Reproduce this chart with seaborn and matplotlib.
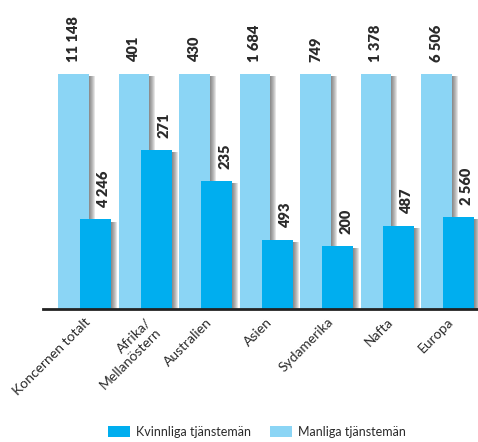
import matplotlib
matplotlib.use("Agg")
import numpy as np
import pandas as pd
import seaborn as sns
import matplotlib.pyplot as plt
from matplotlib import patheffects as pe
from matplotlib.patches import Patch

categories = ["Koncernen totalt", "Afrika/\nMellanöstern", "Australien", "Asien",
              "Sydamerika", "Nafta", "Europa"]
men = [11148, 401, 430, 1684, 749, 1378, 6506]
women = [4246, 271, 235, 493, 200, 487, 2560]
series_names = ["Kvinnliga tjänstemän", "Manliga tjänstemän"]

LIGHT = "#8BD5F5"
DARK = "#00AEEF"
TXT = "#2a2a2a"

sns.set_theme(style="white")
plt.rcParams["font.family"] = ["Lato", "DejaVu Sans"]

fig = plt.figure(figsize=(4.78, 4.42), dpi=100)
ax = fig.add_axes([43 / 478, 133 / 442, 435 / 478, 235 / 442])

pos = np.arange(len(categories))
off = 0.182
df = pd.DataFrame({
    "pos_m": pos - off,
    "pos_w": pos + off,
    "men_share": np.array(men) / np.array(men),
    "women_share": np.array(women) / np.array(men),
})

sns.barplot(data=df, x="pos_m", y="men_share", native_scale=True, width=0.512,
            color=LIGHT, saturation=1, errorbar=None, ax=ax)
sns.barplot(data=df, x="pos_w", y="women_share", native_scale=True, width=0.512,
            color=DARK, saturation=1, errorbar=None, ax=ax)

shadow = [pe.SimplePatchShadow(offset=(k * 0.72, -1.5), shadow_rgbFace="#3a3a3a", alpha=0.13)
          for k in range(1, 7)] + [pe.Normal()]
for p in ax.patches:
    p.set_path_effects(shadow)
    p.set_linewidth(0)

def fmt(v):
    return f"{v:,}".replace(",", " ")

for i in range(len(categories)):
    ax.annotate(fmt(men[i]), xy=(df.pos_m[i], df.men_share[i]), xytext=(0, 8.6),
                textcoords="offset points", rotation=90, ha="center", va="bottom",
                fontsize=10.5, fontweight="heavy", color=TXT, annotation_clip=False)
    ax.annotate(fmt(women[i]), xy=(df.pos_w[i], df.women_share[i]), xytext=(5.8, 8.6),
                textcoords="offset points", rotation=90, ha="center", va="bottom",
                fontsize=10.5, fontweight="heavy", color=TXT, annotation_clip=False)

ax.set_xlim(-0.686, 6.504)
ax.set_ylim(0, 1)
ax.set_xticks(pos)
ax.set_xticklabels(categories, rotation=45, ha="right", rotation_mode="anchor",
                   fontsize=10, color=TXT)
ax.tick_params(axis="x", length=0, pad=5)
ax.set_yticks([])
ax.set_xlabel("")
ax.set_ylabel("")
for s in ["top", "right", "left"]:
    ax.spines[s].set_visible(False)
ax.spines["bottom"].set_linewidth(2)
ax.spines["bottom"].set_color("#222222")
ax.spines["bottom"].set_zorder(5)

handles = [Patch(facecolor=DARK, edgecolor="none"), Patch(facecolor=LIGHT, edgecolor="none")]
fig.legend(handles=handles, labels=series_names, loc="center",
           bbox_to_anchor=(257 / 478, 1 - 432 / 442), ncol=2, frameon=False,
           fontsize=9, handlelength=1.75, handleheight=0.95, columnspacing=1.5,
           handletextpad=0.5, labelcolor=TXT)

fig.savefig("out.png", dpi=100)
